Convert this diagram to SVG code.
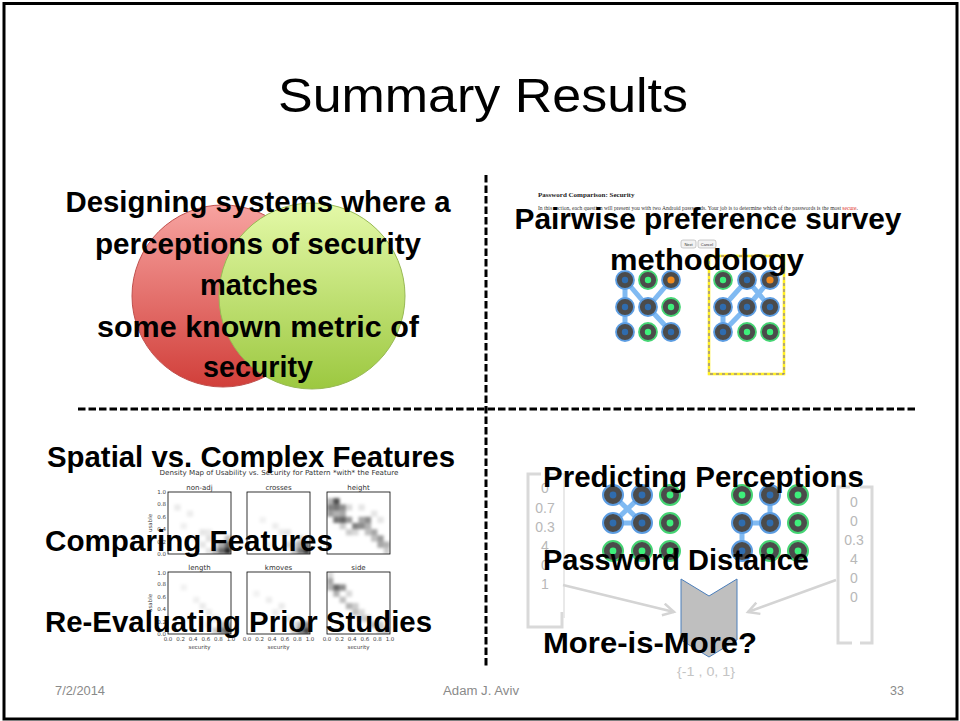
<svg xmlns="http://www.w3.org/2000/svg" width="960" height="721" viewBox="0 0 960 721">
  <defs>
    <linearGradient id="gRed" x1="0" y1="0" x2="0" y2="1">
      <stop offset="0" stop-color="#f7a3a0"/>
      <stop offset="1" stop-color="#d13f3a"/>
    </linearGradient>
    <linearGradient id="gGreen" x1="0" y1="0" x2="0" y2="1">
      <stop offset="0" stop-color="#e4f9a8"/>
      <stop offset="1" stop-color="#9cc840"/>
    </linearGradient>
    <!-- smooths the binned density cells -->
    <filter id="soft" x="-10%" y="-10%" width="120%" height="120%">
      <feGaussianBlur stdDeviation="1.6"/>
    </filter>
    <clipPath id="cell"><rect x="0" y="0" width="63" height="62"/></clipPath>
    <!-- pattern-lock dots: blue = selected, green = idle, orange = start -->
    <g id="dB"><circle r="9" fill="#4b4b4b" stroke="#5c9de2" stroke-width="1.8"/><circle r="3.2" fill="#2f6cae"/></g>
    <g id="dG"><circle r="9" fill="#4b4b4b" stroke="#45d574" stroke-width="1.8"/><circle r="3.2" fill="#3ef07b"/></g>
    <g id="dO"><circle r="9" fill="#4b4b4b" stroke="#5c9de2" stroke-width="1.8"/><circle r="3.6" fill="#f08a1e"/></g>
    <g id="eB"><circle r="10" fill="#4b4b4b" stroke="#5c9de2" stroke-width="2"/><circle r="3.4" fill="#2f6cae"/></g>
    <g id="eG"><circle r="10" fill="#4b4b4b" stroke="#45d574" stroke-width="2"/><circle r="3.4" fill="#3ef07b"/></g>
    <marker id="open" markerUnits="userSpaceOnUse" markerWidth="16" markerHeight="16" refX="12" refY="7" orient="auto">
      <path d="M1,1 L12,7 L1,13" fill="none" stroke="#d4d4d4" stroke-width="2.5"/>
    </marker>
  </defs>
  <style>
    .bold { font-family: "Liberation Sans", Arial, sans-serif; font-weight: bold; font-size: 29px; fill: #000; }
    .foot { font-family: "Liberation Sans", Arial, sans-serif; font-size: 12.5px; fill: #8a8a8a; }
    .ax { font-family: "DejaVu Sans", sans-serif; font-size: 5.5px; fill: #444; }
    .ptitle { font-family: "DejaVu Sans", sans-serif; font-size: 7px; fill: #333; text-anchor: middle; }
    .frame { fill: none; stroke: #000; stroke-width: 0.8; }
    .dens { filter: url(#soft); }
    .vec { font-family: "Liberation Sans", Arial, sans-serif; font-size: 14px; fill: #b8b8b8; text-anchor: middle; }
    .brk { fill: none; stroke: #d9d9d9; stroke-width: 3; }
    .swipe { stroke: #6aaef0; stroke-opacity: 0.85; stroke-width: 5; stroke-linecap: round; fill: none; }
    .divider { stroke: #000; stroke-width: 3; stroke-dasharray: 7.5 3; fill: none; }
  </style>

  <rect x="0" y="0" width="960" height="721" fill="#fff"/>
  <!-- slide border -->
  <rect x="4" y="3.5" width="953" height="715.5" fill="none" stroke="#000" stroke-width="3"/>

  <g id="title">
    <text x="483" y="112" font-family="'Liberation Sans', Arial, sans-serif" font-size="49" text-anchor="middle" textLength="410" lengthAdjust="spacingAndGlyphs" fill="#000">Summary Results</text>
  </g>

  <g id="dividers">
    <line class="divider" x1="78" y1="409" x2="918" y2="409"/>
    <line class="divider" x1="486" y1="175" x2="486" y2="668"/>
  </g>

  <!-- quadrant 1: perception vs. metric -->
  <g id="venn">
    <circle cx="223" cy="296" r="91" fill="url(#gRed)" stroke="#c0504d" stroke-width="1"/>
    <circle cx="312" cy="296" r="93" fill="url(#gGreen)" stroke="#98b954" stroke-width="1"/>
    <text class="bold" x="258" y="212" text-anchor="middle" textLength="385" lengthAdjust="spacingAndGlyphs">Designing systems where a</text>
    <text class="bold" x="258" y="254" text-anchor="middle" textLength="326" lengthAdjust="spacingAndGlyphs">perceptions of security</text>
    <text class="bold" x="259" y="295" text-anchor="middle" textLength="118" lengthAdjust="spacingAndGlyphs">matches</text>
    <text class="bold" x="258" y="337" text-anchor="middle" textLength="322" lengthAdjust="spacingAndGlyphs">some known metric of</text>
    <text class="bold" x="258" y="377" text-anchor="middle" textLength="110" lengthAdjust="spacingAndGlyphs">security</text>
  </g>

  <!-- quadrant 2: survey screenshot -->
  <g id="survey">
    <text x="538" y="197" font-family="'Liberation Serif', serif" font-weight="bold" font-size="7" fill="#222">Password Comparison: Security</text>
    <text x="538" y="210" font-family="'Liberation Serif', serif" font-size="5.6" fill="#333" textLength="320" lengthAdjust="spacingAndGlyphs">In this section, each question will present you with two Android passwords. Your job is to determine which of the passwords is the most <tspan fill="#e0302a">secure</tspan>.</text>
    <rect x="681" y="240" width="15" height="8" rx="2" fill="#f3f3f3" stroke="#aaa" stroke-width="0.6"/>
    <text x="688.5" y="245.6" font-family="'Liberation Sans', Arial, sans-serif" font-size="4" text-anchor="middle" fill="#333">Next</text>
    <rect x="698" y="240" width="18" height="8" rx="2" fill="#f3f3f3" stroke="#aaa" stroke-width="0.6"/>
    <text x="707" y="245.6" font-family="'Liberation Sans', Arial, sans-serif" font-size="4" text-anchor="middle" fill="#333">Cancel</text>

    <!-- left pattern -->
    <path class="swipe" d="M625,280 V332 M625,280 L648,307 L671,332 M671,280 L648,307"/>
    <use href="#dB" x="625" y="280"/><use href="#dG" x="648" y="280"/><use href="#dO" x="671" y="280"/>
    <use href="#dB" x="625" y="307"/><use href="#dB" x="648" y="307"/><use href="#dG" x="671" y="307"/>
    <use href="#dB" x="625" y="332"/><use href="#dG" x="648" y="332"/><use href="#dB" x="671" y="332"/>

    <!-- right pattern, highlighted -->
    <rect x="709" y="256" width="75" height="118" fill="none" stroke="#ffee22" stroke-width="2.6"/>
    <rect x="709" y="256" width="75" height="118" fill="none" stroke="#6a5fc0" stroke-width="1" stroke-dasharray="3 3"/>
    <path class="swipe" d="M723,332 V307 L747,280 L770,307 M723,332 L747,307 L770,280"/>
    <use href="#dG" x="723" y="280"/><use href="#dB" x="747" y="280"/><use href="#dO" x="770" y="280"/>
    <use href="#dB" x="723" y="307"/><use href="#dB" x="747" y="307"/><use href="#dB" x="770" y="307"/>
    <use href="#dB" x="723" y="332"/><use href="#dG" x="747" y="332"/><use href="#dG" x="770" y="332"/>

    <text class="bold" x="708" y="229" text-anchor="middle" textLength="387" lengthAdjust="spacingAndGlyphs">Pairwise preference survey</text>
    <text class="bold" x="707" y="270" text-anchor="middle" textLength="194" lengthAdjust="spacingAndGlyphs">methodology</text>
  </g>

  <!-- quadrant 3: feature density maps -->
  <g id="features">
    <text x="279" y="475" font-family="'DejaVu Sans', sans-serif" font-size="7" text-anchor="middle" fill="#333" textLength="239" lengthAdjust="spacingAndGlyphs">Density Map of Usability vs. Security for Pattern *with* the Feature</text>

    <!-- panel titles -->
    <text class="ptitle" x="199.5" y="490">non-adj</text>
    <text class="ptitle" x="278.5" y="490">crosses</text>
    <text class="ptitle" x="358.5" y="490">height</text>
    <text class="ptitle" x="199.5" y="570">length</text>
    <text class="ptitle" x="278.5" y="570">kmoves</text>
    <text class="ptitle" x="358.5" y="570">side</text>

    <!-- density cells (10x10 bins per panel) -->
    <g transform="translate(168,492)" clip-path="url(#cell)"><g class="dens" fill="#000">
      <rect x="56.7" y="55.8" width="6.3" height="6.2" opacity="0.85"/><rect x="50.4" y="55.8" width="6.3" height="6.2" opacity="0.6"/>
      <rect x="56.7" y="49.6" width="6.3" height="6.2" opacity="0.6"/><rect x="50.4" y="49.6" width="6.3" height="6.2" opacity="0.35"/>
      <rect x="44.1" y="55.8" width="6.3" height="6.2" opacity="0.3"/><rect x="56.7" y="43.4" width="6.3" height="6.2" opacity="0.25"/>
      <rect x="44.1" y="49.6" width="6.3" height="6.2" opacity="0.15"/><rect x="37.8" y="55.8" width="6.3" height="6.2" opacity="0.1"/>
      <rect x="6.3" y="12.4" width="6.3" height="6.2" opacity="0.08"/><rect x="18.9" y="18.6" width="6.3" height="6.2" opacity="0.07"/>
      <rect x="12.6" y="31" width="6.3" height="6.2" opacity="0.06"/><rect x="31.5" y="37.2" width="6.3" height="6.2" opacity="0.1"/>
      <rect x="37.8" y="37.2" width="6.3" height="6.2" opacity="0.08"/><rect x="25.2" y="43.4" width="6.3" height="6.2" opacity="0.08"/>
      <rect x="37.8" y="43.4" width="6.3" height="6.2" opacity="0.12"/><rect x="31.5" y="49.6" width="6.3" height="6.2" opacity="0.1"/>
    </g></g>
    <g transform="translate(247,492)" clip-path="url(#cell)"><g class="dens" fill="#000">
      <rect x="56.7" y="55.8" width="6.3" height="6.2" opacity="0.8"/><rect x="50.4" y="55.8" width="6.3" height="6.2" opacity="0.55"/>
      <rect x="56.7" y="49.6" width="6.3" height="6.2" opacity="0.5"/><rect x="50.4" y="49.6" width="6.3" height="6.2" opacity="0.35"/>
      <rect x="44.1" y="55.8" width="6.3" height="6.2" opacity="0.25"/><rect x="44.1" y="49.6" width="6.3" height="6.2" opacity="0.2"/>
      <rect x="37.8" y="49.6" width="6.3" height="6.2" opacity="0.15"/><rect x="50.4" y="43.4" width="6.3" height="6.2" opacity="0.15"/>
      <rect x="12.6" y="24.8" width="6.3" height="6.2" opacity="0.05"/><rect x="25.2" y="31" width="6.3" height="6.2" opacity="0.07"/>
      <rect x="31.5" y="37.2" width="6.3" height="6.2" opacity="0.08"/><rect x="18.9" y="49.6" width="6.3" height="6.2" opacity="0.06"/>
      <rect x="37.8" y="37.2" width="6.3" height="6.2" opacity="0.1"/>
    </g></g>
    <g transform="translate(327,492)" clip-path="url(#cell)"><g class="dens" fill="#000">
      <rect x="0" y="12.4" width="6.3" height="6.2" opacity="0.5"/><rect x="6.3" y="6.2" width="6.3" height="6.2" opacity="0.7"/>
      <rect x="6.3" y="12.4" width="6.3" height="6.2" opacity="0.55"/><rect x="0" y="18.6" width="6.3" height="6.2" opacity="0.4"/>
      <rect x="12.6" y="12.4" width="6.3" height="6.2" opacity="0.45"/><rect x="6.3" y="18.6" width="6.3" height="6.2" opacity="0.3"/>
      <rect x="6.3" y="24.8" width="6.3" height="6.2" opacity="0.55"/><rect x="12.6" y="24.8" width="6.3" height="6.2" opacity="0.6"/>
      <rect x="12.6" y="18.6" width="6.3" height="6.2" opacity="0.35"/><rect x="18.9" y="24.8" width="6.3" height="6.2" opacity="0.4"/>
      <rect x="25.2" y="31" width="6.3" height="6.2" opacity="0.5"/><rect x="31.5" y="31" width="6.3" height="6.2" opacity="0.45"/>
      <rect x="31.5" y="24.8" width="6.3" height="6.2" opacity="0.35"/><rect x="37.8" y="24.8" width="6.3" height="6.2" opacity="0.45"/>
      <rect x="37.8" y="31" width="6.3" height="6.2" opacity="0.3"/><rect x="44.1" y="37.2" width="6.3" height="6.2" opacity="0.35"/>
      <rect x="37.8" y="37.2" width="6.3" height="6.2" opacity="0.25"/><rect x="50.4" y="43.4" width="6.3" height="6.2" opacity="0.4"/>
      <rect x="44.1" y="43.4" width="6.3" height="6.2" opacity="0.25"/><rect x="50.4" y="49.6" width="6.3" height="6.2" opacity="0.35"/>
      <rect x="56.7" y="49.6" width="6.3" height="6.2" opacity="0.3"/><rect x="56.7" y="55.8" width="6.3" height="6.2" opacity="0.2"/>
      <rect x="18.9" y="37.2" width="6.3" height="6.2" opacity="0.2"/><rect x="25.2" y="37.2" width="6.3" height="6.2" opacity="0.15"/>
      <rect x="12.6" y="31" width="6.3" height="6.2" opacity="0.2"/><rect x="0" y="6.2" width="6.3" height="6.2" opacity="0.3"/>
      <rect x="18.9" y="12.4" width="6.3" height="6.2" opacity="0.15"/><rect x="31.5" y="12.4" width="6.3" height="6.2" opacity="0.1"/>
      <rect x="44.1" y="18.6" width="6.3" height="6.2" opacity="0.1"/><rect x="50.4" y="24.8" width="6.3" height="6.2" opacity="0.1"/>
    </g></g>
    <g transform="translate(168,572)" clip-path="url(#cell)"><g class="dens" fill="#000">
      <rect x="56.7" y="55.8" width="6.3" height="6.2" opacity="0.7"/><rect x="50.4" y="55.8" width="6.3" height="6.2" opacity="0.5"/>
      <rect x="56.7" y="49.6" width="6.3" height="6.2" opacity="0.4"/><rect x="50.4" y="49.6" width="6.3" height="6.2" opacity="0.25"/>
      <rect x="44.1" y="55.8" width="6.3" height="6.2" opacity="0.2"/><rect x="12.6" y="12.4" width="6.3" height="6.2" opacity="0.05"/>
      <rect x="25.2" y="24.8" width="6.3" height="6.2" opacity="0.06"/><rect x="31.5" y="31" width="6.3" height="6.2" opacity="0.08"/>
      <rect x="37.8" y="37.2" width="6.3" height="6.2" opacity="0.08"/><rect x="18.9" y="43.4" width="6.3" height="6.2" opacity="0.06"/>
      <rect x="44.1" y="43.4" width="6.3" height="6.2" opacity="0.1"/><rect x="37.8" y="49.6" width="6.3" height="6.2" opacity="0.1"/>
    </g></g>
    <g transform="translate(247,572)" clip-path="url(#cell)"><g class="dens" fill="#000">
      <rect x="56.7" y="55.8" width="6.3" height="6.2" opacity="0.75"/><rect x="50.4" y="55.8" width="6.3" height="6.2" opacity="0.55"/>
      <rect x="56.7" y="49.6" width="6.3" height="6.2" opacity="0.45"/><rect x="50.4" y="49.6" width="6.3" height="6.2" opacity="0.3"/>
      <rect x="44.1" y="55.8" width="6.3" height="6.2" opacity="0.2"/><rect x="44.1" y="49.6" width="6.3" height="6.2" opacity="0.12"/>
      <rect x="6.3" y="18.6" width="6.3" height="6.2" opacity="0.05"/><rect x="18.9" y="24.8" width="6.3" height="6.2" opacity="0.07"/>
      <rect x="31.5" y="31" width="6.3" height="6.2" opacity="0.08"/><rect x="25.2" y="37.2" width="6.3" height="6.2" opacity="0.07"/>
      <rect x="37.8" y="43.4" width="6.3" height="6.2" opacity="0.1"/><rect x="12.6" y="43.4" width="6.3" height="6.2" opacity="0.06"/>
    </g></g>
    <g transform="translate(327,572)" clip-path="url(#cell)"><g class="dens" fill="#000">
      <rect x="0" y="6.2" width="6.3" height="6.2" opacity="0.35"/><rect x="6.3" y="12.4" width="6.3" height="6.2" opacity="0.6"/>
      <rect x="12.6" y="12.4" width="6.3" height="6.2" opacity="0.45"/><rect x="0" y="12.4" width="6.3" height="6.2" opacity="0.3"/>
      <rect x="6.3" y="18.6" width="6.3" height="6.2" opacity="0.3"/><rect x="12.6" y="24.8" width="6.3" height="6.2" opacity="0.25"/>
      <rect x="18.9" y="31" width="6.3" height="6.2" opacity="0.3"/><rect x="25.2" y="31" width="6.3" height="6.2" opacity="0.2"/>
      <rect x="25.2" y="37.2" width="6.3" height="6.2" opacity="0.25"/><rect x="31.5" y="43.4" width="6.3" height="6.2" opacity="0.2"/>
      <rect x="37.8" y="43.4" width="6.3" height="6.2" opacity="0.25"/><rect x="44.1" y="49.6" width="6.3" height="6.2" opacity="0.3"/>
      <rect x="50.4" y="49.6" width="6.3" height="6.2" opacity="0.2"/><rect x="56.7" y="55.8" width="6.3" height="6.2" opacity="0.25"/>
      <rect x="0" y="0" width="6.3" height="6.2" opacity="0.15"/><rect x="18.9" y="18.6" width="6.3" height="6.2" opacity="0.15"/>
      <rect x="31.5" y="37.2" width="6.3" height="6.2" opacity="0.15"/><rect x="50.4" y="55.8" width="6.3" height="6.2" opacity="0.2"/>
    </g></g>

    <!-- panel frames -->
    <rect class="frame" x="168" y="492" width="63" height="62"/>
    <rect class="frame" x="247" y="492" width="63" height="62"/>
    <rect class="frame" x="327" y="492" width="63" height="62"/>
    <rect class="frame" x="168" y="572" width="63" height="62"/>
    <rect class="frame" x="247" y="572" width="63" height="62"/>
    <rect class="frame" x="327" y="572" width="63" height="62"/>

    <!-- y axis -->
    <g class="ax" text-anchor="end">
      <text x="166" y="494">1.0</text><text x="166" y="506.4">0.8</text><text x="166" y="518.8">0.6</text>
      <text x="166" y="531.2">0.4</text><text x="166" y="543.6">0.2</text><text x="166" y="555.5">0.0</text>
      <text x="166" y="575">1.0</text><text x="166" y="586.4">0.8</text><text x="166" y="598.8">0.6</text>
      <text x="166" y="611.2">0.4</text><text x="166" y="623.6">0.2</text><text x="166" y="636">0.0</text>
    </g>
    <text class="ax" transform="translate(152,523) rotate(-90)" text-anchor="middle">usable</text>
    <text class="ax" transform="translate(152,603) rotate(-90)" text-anchor="middle">usable</text>

    <!-- x axis -->
    <g class="ax" text-anchor="middle">
      <text x="168" y="641">0.0</text><text x="180.6" y="641">0.2</text><text x="193.2" y="641">0.4</text>
      <text x="205.8" y="641">0.6</text><text x="218.4" y="641">0.8</text><text x="231" y="641">1.0</text>
      <text x="247" y="641">0.0</text><text x="259.6" y="641">0.2</text><text x="272.2" y="641">0.4</text>
      <text x="284.8" y="641">0.6</text><text x="297.4" y="641">0.8</text><text x="310" y="641">1.0</text>
      <text x="327" y="641">0.0</text><text x="339.6" y="641">0.2</text><text x="352.2" y="641">0.4</text>
      <text x="364.8" y="641">0.6</text><text x="377.4" y="641">0.8</text><text x="390" y="641">1.0</text>
      <text x="199.5" y="649">security</text><text x="278.5" y="649">security</text><text x="358.5" y="649">security</text>
    </g>

    <text class="bold" x="47" y="467" textLength="408" lengthAdjust="spacingAndGlyphs">Spatial vs. Complex Features</text>
    <text class="bold" x="45" y="551" textLength="288" lengthAdjust="spacingAndGlyphs">Comparing Features</text>
    <text class="bold" x="45" y="632" textLength="387" lengthAdjust="spacingAndGlyphs">Re-Evaluating Prior Studies</text>
  </g>

  <!-- quadrant 4: feature vectors and distance -->
  <g id="predict">
    <!-- left feature vector -->
    <path class="brk" d="M541,474 H528 V627 H562 V612"/>
    <path fill="none" stroke="#e2e2e2" stroke-width="1.5" d="M548,474 H564 V618"/>
    <text class="vec" x="545" y="493">0</text>
    <text class="vec" x="545" y="513">0.7</text>
    <text class="vec" x="545" y="532">0.3</text>
    <text class="vec" x="545" y="551">4</text>
    <text class="vec" x="545" y="570">0</text>
    <text class="vec" x="545" y="589">1</text>

    <!-- right feature vector -->
    <path class="brk" d="M850,487 H838 V643 H852"/>
    <path class="brk" d="M860,487 H872 V643 H860"/>
    <text class="vec" x="854" y="507">0</text>
    <text class="vec" x="854" y="526">0</text>
    <text class="vec" x="854" y="545">0.3</text>
    <text class="vec" x="854" y="564">4</text>
    <text class="vec" x="854" y="583">0</text>
    <text class="vec" x="854" y="602">0</text>

    <!-- pattern pair -->
    <path class="swipe" d="M613,495 L642,523 M642,495 L613,523 H642"/>
    <use href="#eB" x="613" y="495"/><use href="#eB" x="642" y="495"/><use href="#eG" x="670" y="495"/>
    <use href="#eB" x="613" y="523"/><use href="#eB" x="642" y="523"/><use href="#eG" x="670" y="523"/>
    <use href="#eG" x="613" y="551"/><use href="#eG" x="642" y="551"/><use href="#eG" x="670" y="551"/>

    <path class="swipe" d="M770,495 V523 H742 V551"/>
    <use href="#eG" x="742" y="495"/><use href="#eB" x="770" y="495"/><use href="#eG" x="798" y="495"/>
    <use href="#eB" x="742" y="523"/><use href="#eB" x="770" y="523"/><use href="#eG" x="798" y="523"/>
    <use href="#eB" x="742" y="551"/><use href="#eG" x="770" y="551"/><use href="#eG" x="798" y="551"/>

    <!-- distance chevron -->
    <polygon points="681,579 709,596 737,579 737,640 709,657 681,640" fill="#bfbfbf" stroke="#4a7ebb" stroke-width="1"/>
    <text x="706" y="676" font-family="'Liberation Sans', Arial, sans-serif" font-size="13" fill="#c4c4c4" text-anchor="middle" textLength="58" lengthAdjust="spacingAndGlyphs">{-1 , 0, 1}</text>

    <text class="bold" x="543" y="487" textLength="321" lengthAdjust="spacingAndGlyphs">Predicting Perceptions</text>
    <text class="bold" x="543" y="570" textLength="266" lengthAdjust="spacingAndGlyphs">Password Distance</text>
    <text class="bold" x="543" y="653" textLength="214" lengthAdjust="spacingAndGlyphs">More-is-More?</text>
  </g>

  <g id="connectors">
    <line x1="563" y1="585" x2="674" y2="612" stroke="#d4d4d4" stroke-width="2.5" marker-end="url(#open)"/>
    <line x1="836" y1="580" x2="748" y2="612" stroke="#d4d4d4" stroke-width="2.5" marker-end="url(#open)"/>
  </g>

  <g id="footer">
    <text class="foot" x="55" y="695" textLength="50" lengthAdjust="spacingAndGlyphs">7/2/2014</text>
    <text class="foot" x="481" y="695" text-anchor="middle" textLength="76" lengthAdjust="spacingAndGlyphs">Adam J. Aviv</text>
    <text class="foot" x="897" y="695" text-anchor="middle">33</text>
  </g>
</svg>
